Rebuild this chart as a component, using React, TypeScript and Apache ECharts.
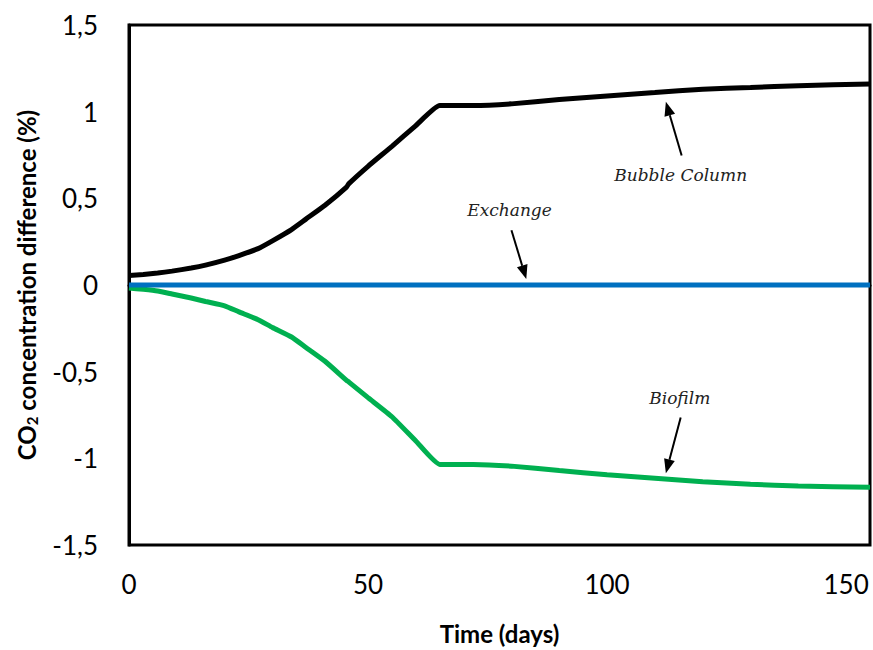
import React, { useEffect, useRef } from "react";
import * as echarts from "echarts";

const days = [0, 3, 6, 9, 13, 16, 20, 23, 27, 30, 34, 37, 41, 45.5, 46, 50, 55, 60, 65, 72, 80, 90, 100, 110, 120, 130, 140, 155];
const bubbleColumn = [0.055, 0.061, 0.069, 0.08, 0.098, 0.115, 0.144, 0.17, 0.21, 0.255, 0.32, 0.38, 0.46, 0.565, 0.585, 0.685, 0.8, 0.92, 1.035, 1.035, 1.045, 1.07, 1.09, 1.11, 1.13, 1.14, 1.15, 1.16];
const biofilm = [-0.017, -0.025, -0.035, -0.052, -0.075, -0.095, -0.12, -0.155, -0.2, -0.245, -0.3, -0.36, -0.44, -0.55, -0.56, -0.65, -0.76, -0.9, -1.035, -1.035, -1.045, -1.07, -1.095, -1.115, -1.135, -1.15, -1.16, -1.167];
const exchangeDays = [0, 155];
const exchange = [0, 0];

const yTicks = { min: -1.5, max: 1.5, interval: 0.5 };
const xTicks = { min: 0, max: 155, interval: 50 };

const annotations = [
  { text: "Bubble Column", textAt: [115.4, 0.632], tail: [115.6, 0.747], tip: [112.3, 1.057] },
  { text: "Exchange", textAt: [79.6, 0.43], tail: [80, 0.316], tip: [83.1, 0.034] },
  { text: "Biofilm", textAt: [115.2, -0.65], tail: [115.4, -0.764], tip: [112.3, -1.086] },
];

export default function App() {
  const ref = useRef<HTMLDivElement>(null);
  useEffect(() => {
    if (!ref.current) return;
    const chart = echarts.init(ref.current, null, { renderer: "svg" });
    const fmt = (v: number) => String(v).replace(".", ",");
    chart.setOption({
      animation: false,
      textStyle: { fontFamily: "Lato" },
      grid: { left: 129, right: 2, top: 25, bottom: 102, show: true, borderColor: "#000", borderWidth: 3, backgroundColor: "transparent" },
      xAxis: {
        type: "value",
        min: xTicks.min,
        max: xTicks.max,
        interval: xTicks.interval,
        splitLine: { show: false },
        axisTick: { show: false },
        axisLine: { show: true, lineStyle: { color: "#000", width: 3 } },
        axisLabel: {
          color: "#000",
          fontSize: 26,
          fontFamily: "Lato",
          margin: 26,
          formatter: (v: number) => (v % 50 === 0 ? fmt(v) : ""),
        },
        name: "Time (days)",
        nameLocation: "middle",
        nameGap: 76,
        nameTextStyle: { color: "#000", fontSize: 24, fontWeight: "bold", fontFamily: "Lato" },
      },
      yAxis: {
        type: "value",
        min: yTicks.min,
        max: yTicks.max,
        interval: yTicks.interval,
        splitLine: { show: false },
        axisTick: { show: false },
        axisLine: { show: true, lineStyle: { color: "#000", width: 3 } },
        axisLabel: { color: "#000", fontSize: 26, fontFamily: "Lato", margin: 31, formatter: fmt },
        name: "{a|CO}{s|2}{a| concentration difference (%)}",
        nameLocation: "middle",
        nameGap: 90,
        nameTextStyle: {
          color: "#000",
          fontSize: 24,
          fontWeight: "bold",
          fontFamily: "Lato",
          rich: {
            a: { fontSize: 24, fontWeight: "bold", fontFamily: "Lato", color: "#000" },
            s: { fontSize: 15, fontWeight: "bold", fontFamily: "Lato", color: "#000", verticalAlign: "bottom", padding: [10, 0, 0, 0] },
          },
        },
      },
      series: [
        {
          name: "Exchange",
          type: "line",
          data: exchangeDays.map((d, i) => [d, exchange[i]]),
          showSymbol: false,
          lineStyle: { color: "#0070C0", width: 5 },
          z: 3,
        },
        {
          name: "Bubble Column",
          type: "line",
          data: days.map((d, i) => [d, bubbleColumn[i]]),
          showSymbol: false,
          smooth: 0.15,
          lineStyle: { color: "#000", width: 5 },
          z: 2,
        },
        {
          name: "Biofilm",
          type: "line",
          data: days.map((d, i) => [d, biofilm[i]]),
          showSymbol: false,
          smooth: 0.15,
          lineStyle: { color: "#00B050", width: 5 },
          z: 2,
        },
      ],
    });
    const px = (p: number[]) => chart.convertToPixel({ gridIndex: 0 }, p) as number[];
    const graphics: any[] = [];
    annotations.forEach((a) => {
      const t = px(a.textAt);
      const tail = px(a.tail);
      const tip = px(a.tip);
      const dx = tip[0] - tail[0];
      const dy = tip[1] - tail[1];
      const len = Math.sqrt(dx * dx + dy * dy);
      const ux = dx / len;
      const uy = dy / len;
      const hl = 14;
      const hw = 5.5;
      const bx = tip[0] - ux * hl;
      const by = tip[1] - uy * hl;
      graphics.push({
        type: "text",
        x: t[0],
        y: t[1],
        style: {
          text: a.text,
          fill: "#222",
          font: "italic 17px 'DejaVu Serif'",
          textAlign: "center",
          textVerticalAlign: "middle",
        },
        z: 10,
      });
      graphics.push({
        type: "line",
        shape: { x1: tail[0], y1: tail[1], x2: bx, y2: by },
        style: { stroke: "#000", lineWidth: 2 },
        z: 10,
      });
      graphics.push({
        type: "polygon",
        shape: {
          points: [
            [tip[0], tip[1]],
            [bx - uy * hw, by + ux * hw],
            [bx + uy * hw, by - ux * hw],
          ],
        },
        style: { fill: "#000" },
        z: 10,
      });
    });
    chart.setOption({ graphic: graphics });
    return () => chart.dispose();
  }, []);
  return <div ref={ref} style={{ position: "fixed", left: 0, top: 0, width: 873, height: 650, background: "#fff" }} />;
}
